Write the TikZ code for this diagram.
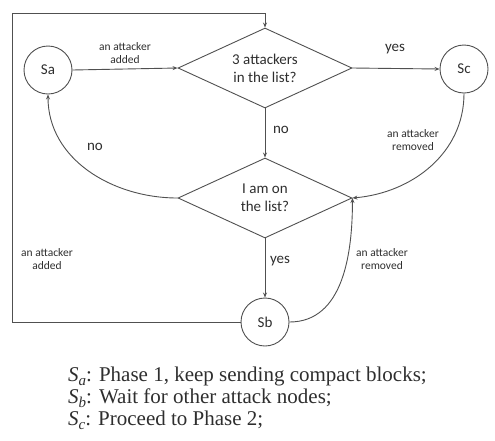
\documentclass[tikz,border=0pt]{standalone}
\usepackage{fontspec}
\setmainfont{Liberation Serif}
\newfontfamily\dfont{Carlito}
\usetikzlibrary{shapes.geometric,arrows.meta}
\definecolor{ln}{HTML}{505050}
\definecolor{tx}{HTML}{2E2E2E}
\begin{document}
\begin{tikzpicture}[x=1pt,y=-1pt,
  every node/.style={text=tx},
  st/.style={circle,draw=ln,line width=0.9pt,minimum size=48pt,inner sep=0pt,font=\dfont\fontsize{15}{15}\selectfont},
  dec/.style={diamond,draw=ln,line width=0.9pt,aspect=2,inner sep=0pt,minimum width=174pt,minimum height=80pt,align=center,font=\dfont\fontsize{15}{18}\selectfont},
  big/.style={font=\dfont\fontsize{15}{15}\selectfont},
  sml/.style={align=center,font=\dfont\fontsize{11.5}{13.5}\selectfont},
  cn/.style={draw=ln,line width=0.9pt,-{Stealth[length=5pt,width=4pt]}},
  legend/.style={anchor=base west,inner sep=0pt,font=\fontsize{21}{22}\selectfont}
]
\useasboundingbox (0,0) rectangle (495,440);
\node[st] (Sa) at (48,70) {Sa};
\node[dec] (D1) at (265,68) {3 attackers\\in the list?};
\node[st] (Sc) at (464,69) {Sc};
\node[dec] (D2) at (265,198) {I am on\\the list?};
\node[st] (Sb) at (265,322) {Sb};
\coordinate (lb) at (12,322);
\coordinate (lt) at (12,13);

\draw[cn] (Sa.east) -- (D1.west);
\draw[cn] (D1.east) -- (Sc.west);
\draw[cn] (D1.south) -- (D2.north);
\draw[cn] (D2.south) -- (Sb.north);
\draw[cn] (D2.west) to[out=180,in=-90] (Sa.south);
\draw[cn] (Sc.south) to[out=-90,in=5] (D2.east);
\draw[cn] (Sb.east) to[out=0,in=-90] (D2.east);
\draw[cn] (Sb.west) -- (lb) -- (lt) -| (D1.north);

\node[sml] (l1) at (125,53) {an attacker\\added};
\node[big] (l2) at (395,49) {yes};
\node[big] (l3) at (281,130) {no};
\node[big] (l4) at (95,147) {no};
\node[sml] (l5) at (413,140) {an attacker\\removed};
\node[big] (l6) at (280,261) {yes};
\node[sml] (l7) at (382,259) {an attacker\\removed};
\node[sml] (l8) at (47,259) {an attacker\\added};

\node[legend] (t1) at (68,381) {\textit{S}\raisebox{-4pt}{\fontsize{15}{15}\selectfont\itshape a}: Phase 1, keep sending compact blocks;};
\node[legend] (t2) at (68,403) {\textit{S}\raisebox{-4pt}{\fontsize{15}{15}\selectfont\itshape b}: Wait for other attack nodes;};
\node[legend] (t3) at (68,425) {\textit{S}\raisebox{-4pt}{\fontsize{15}{15}\selectfont\itshape c}: Proceed to Phase 2;};
\end{tikzpicture}
\end{document}
